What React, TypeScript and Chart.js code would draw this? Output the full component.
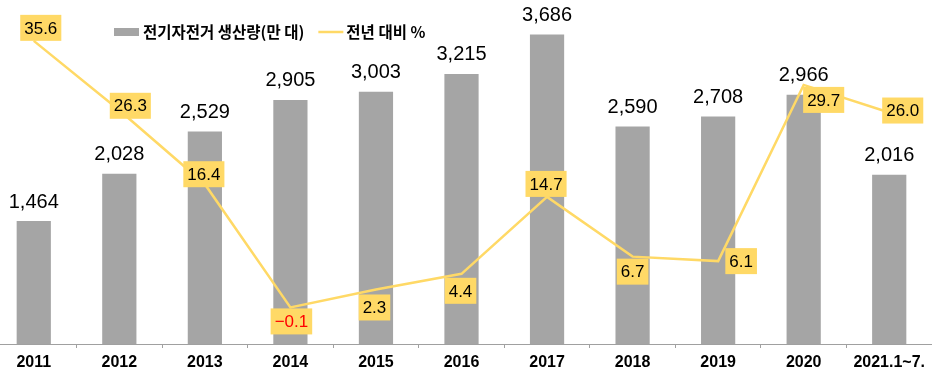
import React, { useEffect, useRef } from "react";
import { Chart, registerables } from "chart.js";

Chart.register(...registerables);

const categories = ["2011", "2012", "2013", "2014", "2015", "2016", "2017", "2018", "2019", "2020", "2021.1~7."];
const production = [1464, 2028, 2529, 2905, 3003, 3215, 3686, 2590, 2708, 2966, 2016];
const yoyChange = [35.6, 26.3, 16.4, -0.1, 2.3, 4.4, 14.7, 6.7, 6.1, 29.7, 26.0];
const productionLabel = "전기자전거 생산량(만 대)";
const changeLabel = "전년 대비 %";

// label box offsets (dx, dy) from each line point, in px
const lineLabelOffsets: [number, number][] = [
  [7, -13], [11, -4.5], [-1, -10], [1, 14], [-1.5, 18], [-1, 17],
  [-1, -13], [0, 15], [23, 0], [20, 15], [13.5, -2],
];

const BAR_COLOR = "#A5A5A5";
const LINE_COLOR = "#FFD966";
const SHIFT = 9; // canvas is shifted left by this many px

const labelsPlugin = {
  id: "customLabels",
  afterDatasetsDraw(chart: any) {
    const ctx = chart.ctx;
    ctx.save();
    // bar value labels
    const barMeta = chart.getDatasetMeta(0);
    ctx.font = "20px 'Liberation Sans', Arial, sans-serif";
    ctx.fillStyle = "#000";
    ctx.textAlign = "center";
    ctx.textBaseline = "middle";
    barMeta.data.forEach((el: any, i: number) => {
      ctx.fillText(production[i].toLocaleString("en-US"), el.x, el.y - 19);
    });
    // line value labels in boxes
    const lineMeta = chart.getDatasetMeta(1);
    ctx.font = "17px 'Liberation Sans', Arial, sans-serif";
    lineMeta.data.forEach((el: any, i: number) => {
      const v = yoyChange[i];
      const txt = (v < 0 ? "\u2212" : "") + Math.abs(v).toFixed(1);
      const w = ctx.measureText(txt).width + 8;
      const h = 26;
      const cx = el.x + lineLabelOffsets[i][0];
      const cy = el.y + lineLabelOffsets[i][1];
      ctx.fillStyle = LINE_COLOR;
      ctx.fillRect(cx - w / 2, cy - h / 2, w, h);
      ctx.fillStyle = v < 0 ? "#FF0000" : "#000";
      ctx.fillText(txt, cx, cy + 1);
    });
    ctx.restore();
  },
  afterDraw(chart: any) {
    const ctx = chart.ctx;
    ctx.save();
    const y = 32;
    // bar legend
    ctx.fillStyle = BAR_COLOR;
    ctx.fillRect(114 + SHIFT, y - 4, 25, 8);
    ctx.font = "bold 15.5px 'Noto Sans CJK KR', sans-serif";
    ctx.fillStyle = "#000";
    ctx.textAlign = "left";
    ctx.textBaseline = "middle";
    const x1 = 143 + SHIFT;
    ctx.fillText(productionLabel, x1, y);
    const end1 = x1 + ctx.measureText(productionLabel).width;
    // line legend
    const lx = Math.max(end1 + 14, 317 + SHIFT);
    ctx.strokeStyle = LINE_COLOR;
    ctx.lineWidth = 2.5;
    ctx.beginPath();
    ctx.moveTo(lx, y);
    ctx.lineTo(lx + 25, y);
    ctx.stroke();
    ctx.fillText(changeLabel, lx + 28, y);
    ctx.restore();
  },
};

export default function App() {
  const ref = useRef<HTMLCanvasElement>(null);
  useEffect(() => {
    if (!ref.current) return;
    const chart = new Chart(ref.current, {
      type: "bar",
      data: {
        labels: categories,
        datasets: [
          {
            type: "bar",
            label: productionLabel,
            data: production,
            backgroundColor: BAR_COLOR,
            barPercentage: 0.4,
            categoryPercentage: 1,
            yAxisID: "y",
            order: 2,
          },
          {
            type: "line",
            label: changeLabel,
            data: yoyChange,
            borderColor: LINE_COLOR,
            borderWidth: 2.5,
            pointRadius: 0,
            tension: 0,
            yAxisID: "y1",
            order: 1,
          } as any,
        ],
      },
      options: {
        animation: false,
        responsive: true,
        maintainAspectRatio: false,
        layout: { padding: { top: 8, left: 0, right: 0, bottom: 0 } },
        plugins: { legend: { display: false }, tooltip: { enabled: false } },
        scales: {
          x: {
            offset: true,
            grid: {
              display: true,
              offset: true,
              drawOnChartArea: false,
              drawTicks: true,
              tickLength: 4,
              color: "#A0A0A0",
            },
            border: { display: true, color: "#A0A0A0", width: 1 },
            ticks: {
              color: "#000",
              padding: 5,
              maxRotation: 0,
              autoSkip: false,
              font: { family: "'Liberation Sans', Arial, sans-serif", size: 16, weight: "bold" },
            },
            afterFit: (scale: any) => {
              scale.height = 33;
            },
          },
          y: { display: false, min: 0, max: 4000 },
          y1: { display: false, min: -5, max: 40, position: "right" },
        },
      },
      plugins: [labelsPlugin],
    });
    return () => chart.destroy();
  }, []);
  return (
    <div style={{ position: "fixed", left: 0, top: 0, width: 932, height: 377, overflow: "hidden", background: "#fff" }}>
      <div style={{ position: "absolute", left: -SHIFT, top: 0, width: 941, height: 377 }}>
        <canvas ref={ref} />
      </div>
    </div>
  );
}
